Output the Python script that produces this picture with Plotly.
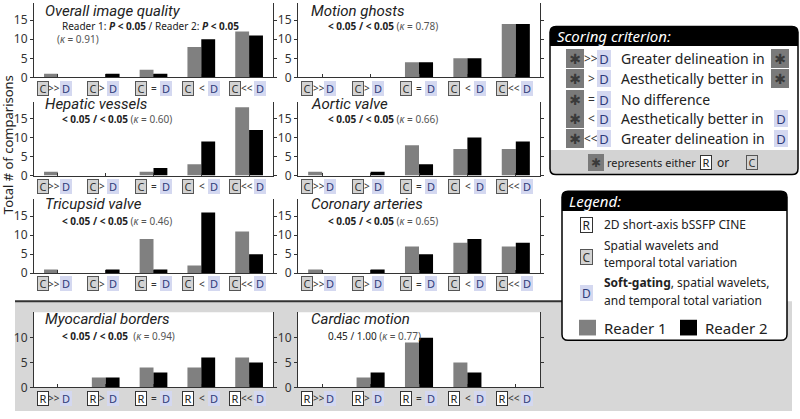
import plotly.graph_objects as go

W, H = 800, 419

# ---------------- data ----------------
ops = [">>", ">", "=", "<", "<<"]
cats_c = ["C" + o + "D" for o in ops]
cats_r = ["R" + o + "D" for o in ops]

titles = ["Overall image quality", "Motion ghosts", "Hepatic vessels", "Aortic valve",
          "Tricupsid valve", "Coronary arteries", "Myocardial borders", "Cardiac motion"]
refs = ["C", "C", "C", "C", "C", "C", "R", "R"]

overall_r1 = [1, 0, 2, 8, 12]
overall_r2 = [0, 1, 1, 10, 11]
ghosts_r1 = [0, 0, 4, 5, 14]
ghosts_r2 = [0, 0, 4, 5, 14]
hepatic_r1 = [1, 0, 1, 3, 18]
hepatic_r2 = [0, 0, 2, 9, 12]
aortic_r1 = [1, 0, 8, 7, 7]
aortic_r2 = [0, 1, 3, 10, 9]
tricuspid_r1 = [1, 0, 9, 2, 11]
tricuspid_r2 = [0, 1, 1, 16, 5]
coronary_r1 = [1, 0, 7, 8, 7]
coronary_r2 = [0, 1, 5, 9, 8]
myo_r1 = [0, 2, 4, 4, 6]
myo_r2 = [0, 2, 3, 6, 5]
motion_r1 = [0, 2, 9, 5, 0]
motion_r2 = [0, 3, 10, 3, 0]

reader1 = [overall_r1, ghosts_r1, hepatic_r1, aortic_r1, tricuspid_r1, coronary_r1, myo_r1, motion_r1]
reader2 = [overall_r2, ghosts_r2, hepatic_r2, aortic_r2, tricuspid_r2, coronary_r2, myo_r2, motion_r2]

kappas = ["0.91", "0.78", "0.60", "0.66", "0.46", "0.65", "0.94", "0.77"]
sig_bold = "<b>&lt; 0.05 / &lt; 0.05</b>"
p_texts = ["Reader 1: <b><i>P</i> &lt; 0.05</b> / Reader 2: <b><i>P</i> &lt; 0.05</b>",
           sig_bold, sig_bold, sig_bold, sig_bold, sig_bold, sig_bold, "0.45 / 1.00"]

# ---------------- geometry (pixels) ----------------
col_x = [(34, 273), (298, 540)]
row_y = [(3, 79), (103.5, 179), (203, 278.5), (318.3, 395)]
title_y = [11, 106, 208, 325]
stat_y = [26, 121, 225, 343]
title_x = [43, 309]
stat_x = [60, 326]

GREY = "#808080"
TXT = "#222222"
FONT = "Noto Sans"


def fx(x):
    return x / W


def fy(y):
    return 1 - y / H


def rrect(x0, y0, x1, y1, r, top=True, bottom=True):
    rt = r if top else 0
    rb = r if bottom else 0
    P = lambda x, y: f"{fx(x):.5f},{fy(y):.5f}"
    return (f"M {P(x0 + rt, y0)} L {P(x1 - rt, y0)} Q {P(x1, y0)} {P(x1, y0 + rt)} "
            f"L {P(x1, y1 - rb)} Q {P(x1, y1)} {P(x1 - rb, y1)} L {P(x0 + rb, y1)} "
            f"Q {P(x0, y1)} {P(x0, y1 - rb)} L {P(x0, y0 + rt)} Q {P(x0, y0)} {P(x0 + rt, y0)} Z")


def txt(x, y, text, size=13, color=TXT, xanchor="left", italic=False, family=FONT, **kw):
    s = f"<i>{text}</i>" if italic else text
    return dict(x=fx(x), y=fy(y), xref="paper", yref="paper", text=s, showarrow=False,
                xanchor=xanchor, yanchor="middle", font=dict(size=size, color=color, family=family), **kw)


def box(x, y, letter, kind, size=11, w=8, h=11):
    style = {"C": dict(bgcolor="#d3d3d3", bordercolor="#555555", borderwidth=1, fc="#333333"),
             "R": dict(bgcolor="#ffffff", bordercolor="#333333", borderwidth=1, fc="#222222"),
             "D": dict(bgcolor="#d4d8f0", bordercolor="#d4d8f0", borderwidth=1, fc="#2e3b7a"),
             "S": dict(bgcolor="#7a7a7a", bordercolor="#7a7a7a", borderwidth=1, fc="#3a3a3a")}[kind]
    fam = "DejaVu Sans" if kind == "S" else FONT
    return dict(x=fx(x), y=fy(y), xref="paper", yref="paper", text=letter, showarrow=False,
                xanchor="center", yanchor="middle", width=w, height=h, borderpad=1,
                bgcolor=style["bgcolor"], bordercolor=style["bordercolor"], borderwidth=style["borderwidth"],
                font=dict(size=size, color=style["fc"], family=fam))


fig = go.Figure()
annotations = []
shapes = []

# grey lower region + white plot areas
shapes.append(dict(type="rect", xref="paper", yref="paper", x0=fx(15), x1=fx(792), y0=fy(419), y1=fy(307),
                   fillcolor="#d7d7d7", line_width=0, layer="below"))
for cx in col_x:
    shapes.append(dict(type="rect", xref="paper", yref="paper", x0=fx(cx[0]), x1=fx(cx[1]),
                       y0=fy(row_y[3][1]), y1=fy(row_y[3][0]), fillcolor="white", line_width=0, layer="below"))
shapes.append(dict(type="line", xref="paper", yref="paper", x0=fx(15), x1=fx(562), y0=fy(307), y1=fy(307),
                   line=dict(color="#333333", width=2)))

# pixel offsets of (reference box, operator, D box) from each category centre
label_off = {">>": (-15, -3.5, 8), ">": (-13, -4, 7), "=": (-13, 0, 12), "<": (-13, 1, 13), "<<": (-14, -2, 11)}

for i in range(8):
    row, col = i // 2, i % 2
    n = "" if i == 0 else str(i + 1)
    cats = cats_c if refs[i] == "C" else cats_r
    fig.add_trace(go.Bar(x=cats, y=reader1[i], marker_color=GREY, marker_line_width=0,
                         offsetgroup="r1", xaxis="x" + n, yaxis="y" + n, name="Reader 1"))
    fig.add_trace(go.Bar(x=cats, y=reader2[i], marker_color="#000000", marker_line_width=0,
                         offsetgroup="r2", xaxis="x" + n, yaxis="y" + n, name="Reader 2"))
    x0, x1 = col_x[col]
    y0, y1 = row_y[row]
    yr = [0, 15.1] if row == 3 else [0, 19.5]
    tv = [0, 5, 10] if row == 3 else [0, 5, 10, 15]
    fig.layout["xaxis" + n] = dict(domain=[fx(x0), fx(x1)], anchor="y" + n, type="category",
                                   range=[-0.5, 4.5], showticklabels=False, showline=True,
                                   linecolor="#333333", linewidth=1, ticks="inside", ticklen=3,
                                   tickcolor="#333333", showgrid=False, zeroline=False, fixedrange=True)
    fig.layout["yaxis" + n] = dict(domain=[fy(y1), fy(y0)], anchor="x" + n, range=yr, tickvals=tv,
                                   showline=True, mirror="ticks", linecolor="#333333", linewidth=1,
                                   ticks="outside", ticklen=3, tickcolor="#333333",
                                   tickfont=dict(size=12, color="#333333", family=FONT),
                                   showgrid=False, zeroline=False, fixedrange=True)
    # category tick labels drawn as boxed glyphs
    step = (x1 - x0) / 5
    for k, o in enumerate(ops):
        cxp = x0 + step * (k + 0.5)
        oc, oo, od = label_off[o]
        ly = y1 + 11
        annotations.append(box(cxp + oc, ly, refs[i], refs[i]))
        annotations.append(txt(cxp + oo, ly, o, size=10, color="#333333", xanchor="center"))
        annotations.append(box(cxp + od, ly, "D", "D"))
    # titles and statistics
    annotations.append(txt(title_x[col], title_y[row], titles[i], size=15, italic=True, family="Roboto"))
    kap = f"<span style='color:#555555'>(<i>κ</i> = {kappas[i]})</span>"
    if i == 0:
        annotations.append(txt(stat_x[col], stat_y[row], p_texts[i], size=10))
        annotations.append(txt(55, 40, kap, size=10))
    elif i == 6:
        annotations.append(txt(stat_x[col], stat_y[row], p_texts[i] + "  " + kap, size=10))
    else:
        annotations.append(txt(stat_x[col], stat_y[row], p_texts[i] + " " + kap, size=10))

annotations.append(dict(x=fx(8), y=fy(148), xref="paper", yref="paper", text="Total # of comparisons",
                        textangle=-90, showarrow=False, xanchor="center", yanchor="middle",
                        font=dict(size=13, color=TXT, family=FONT)))

# ---------------- scoring criterion box ----------------
shapes.append(dict(type="path", path=rrect(550, 27, 798, 178, 6), fillcolor="white", line_width=0))
shapes.append(dict(type="path", path=rrect(550, 27, 798, 47, 6, bottom=False), fillcolor="black", line_width=0))
shapes.append(dict(type="path", path=rrect(550, 153, 798, 178, 6, top=False), fillcolor="#d3d3d3", line_width=0))
shapes.append(dict(type="path", path=rrect(550, 27, 798, 178, 6), line=dict(color="black", width=1.5)))
annotations.append(txt(555, 37, "Scoring criterion:", size=15, color="white", italic=True))

score_rows = [60, 80.5, 101, 121, 141.5]
score_desc = ["Greater delineation in", "Aesthetically better in", "No difference",
              "Aesthetically better in", "Greater delineation in"]
score_end = ["S", "S", None, "D", "D"]
for k, o in enumerate(ops):
    yy = score_rows[k]
    annotations.append(box(575, yy, "✱", "S", size=14, w=14, h=15))
    annotations.append(txt(591, yy, o, size=12, color="#333333", xanchor="center"))
    annotations.append(box(604, yy, "D", "D", size=13, w=10, h=13))
    annotations.append(txt(619, yy, score_desc[k], size=14))
    if score_end[k] == "S":
        annotations.append(box(780, yy, "✱", "S", size=14, w=14, h=15))
    elif score_end[k] == "D":
        annotations.append(box(781, yy, "D", "D", size=13, w=10, h=13))

annotations.append(box(596, 165.5, "✱", "S", size=12, w=12, h=13))
annotations.append(txt(605, 165.5, "represents either", size=11))
annotations.append(box(706, 165.5, "R", "R", size=11, w=8, h=11))
annotations.append(txt(723, 165.5, "or", size=12, xanchor="center"))
annotations.append(box(752, 165.5, "C", "C", size=11, w=8, h=11))

# ---------------- legend box ----------------
shapes.append(dict(type="path", path=rrect(562, 195, 787, 347, 6), fillcolor="white", line_width=0))
shapes.append(dict(type="path", path=rrect(562, 195, 787, 215, 6, bottom=False), fillcolor="black", line_width=0))
shapes.append(dict(type="path", path=rrect(562, 195, 787, 347, 6), line=dict(color="black", width=1.5)))
annotations.append(txt(567, 205, "Legend:", size=15, color="white", italic=True))

annotations.append(box(586, 229, "R", "R", size=12, w=9, h=12))
annotations.append(txt(602, 229, "2D short-axis bSSFP CINE", size=12))
annotations.append(box(586, 262, "C", "C", size=12, w=9, h=12))
annotations.append(txt(602, 250, "Spatial wavelets and", size=12))
annotations.append(txt(602, 268, "temporal total variation", size=12))
annotations.append(box(586, 299, "D", "D", size=12, w=9, h=12))
annotations.append(txt(602, 288, "<b>Soft-gating</b>, spatial wavelets,", size=12))
annotations.append(txt(602, 306, "and temporal total variation", size=12))

shapes.append(dict(type="rect", xref="paper", yref="paper", x0=fx(579), x1=fx(596), y0=fy(342), y1=fy(326),
                   fillcolor=GREY, line_width=0))
shapes.append(dict(type="rect", xref="paper", yref="paper", x0=fx(680), x1=fx(697), y0=fy(342), y1=fy(326),
                   fillcolor="black", line_width=0))
annotations.append(txt(602, 334, "Reader 1", size=15))
annotations.append(txt(703, 334, "Reader 2", size=15))

for s in shapes:
    s.setdefault("xref", "paper")
    s.setdefault("yref", "paper")

fig.update_layout(width=W, height=H, margin=dict(l=0, r=0, t=0, b=0),
                  paper_bgcolor="white", plot_bgcolor="rgba(0,0,0,0)",
                  barmode="group", bargap=0.42, bargroupgap=0, showlegend=False,
                  font=dict(family=FONT, color=TXT),
                  shapes=shapes, annotations=annotations)

# the page body has a default 8px margin; drop it so the figure fills the window
fig.write_html("out.html", config={"displayModeBar": False},
               post_script="document.body.style.margin='0';document.body.style.overflow='hidden';")
